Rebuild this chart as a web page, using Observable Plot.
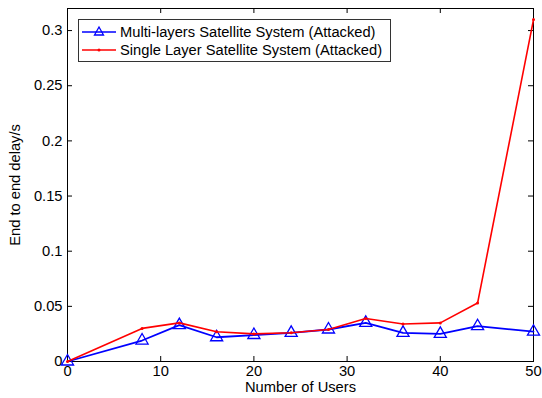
<!DOCTYPE html>
<html><head><meta charset="utf-8">
<script src="https://cdn.jsdelivr.net/npm/d3@7"></script>
<script src="https://cdn.jsdelivr.net/npm/@observablehq/plot@0.6"></script>
<style>
body{margin:0;background:#fff;font-family:"Liberation Sans",Arial,sans-serif;}
#wrap{position:relative;width:542px;height:398px;}
#legend{position:absolute;left:78px;top:19px;width:311px;height:41px;border:1px solid #333;background:#fff;font-size:14.7px;}
#legend .row{position:absolute;left:3px;height:18px;display:flex;align-items:center;}
#legend span{margin-left:4px;}
</style></head>
<body><div id="wrap"><div id="chart"></div>
<div id="legend">
<div class="row" style="top:3px"><svg width="34" height="18"><line x1="0" y1="9" x2="34" y2="9" stroke="#0000ff" stroke-width="1.5"/><path d="M17,4 L21.5,12 L12.5,12 Z" fill="none" stroke="#0000ff" stroke-width="1.3"/></svg><span>Multi-layers Satellite System (Attacked)</span></div>
<div class="row" style="top:21px"><svg width="34" height="18"><line x1="0" y1="9" x2="34" y2="9" stroke="#ff0000" stroke-width="1.5"/><circle cx="17" cy="9" r="1.5" fill="#ff0000"/></svg><span>Single Layer Satellite System (Attacked)</span></div>
</div></div>
<script>
const users = [0, 8, 12, 16, 20, 24, 28, 32, 36, 40, 44, 50];
const multiLayer = [0, 0.019, 0.033, 0.022, 0.024, 0.026, 0.029, 0.035, 0.026, 0.025, 0.032, 0.027];
const singleLayer = [0, 0.030, 0.035, 0.027, 0.025, 0.026, 0.029, 0.039, 0.034, 0.035, 0.053, 0.31];
const xTicks = [0, 10, 20, 30, 40, 50];
const yTicks = [0, 0.05, 0.1, 0.15, 0.2, 0.25, 0.3];
const yTickLabels = ["0", "0.05", "0.1", "0.15", "0.2", "0.25", "0.3"];

const multi = users.map((u, i) => ({u, v: multiLayer[i]}));
const single = users.map((u, i) => ({u, v: singleLayer[i]}));

const W = 542, H = 398, mT = 8, mB = 37, mL = 67, mR = 9;
const ph = H - mT - mB, pw = W - mL - mR, tl = 5;

const chart = Plot.plot({
  width: W, height: H,
  marginTop: mT, marginBottom: mB, marginLeft: mL, marginRight: mR,
  style: {fontFamily: '"Liberation Sans", Arial, sans-serif', fontSize: "14.7px", color: "#000", background: "#fff"},
  x: {domain: [0, 50]},
  y: {domain: [0, 0.32]},
  marks: [
    Plot.axisX({ticks: xTicks, tickSize: 0, tickPadding: 4, label: "Number of Users", labelAnchor: "center", labelArrow: "none", labelOffset: 30, fontSize: 14.7}),
    Plot.axisY({ticks: yTicks, tickFormat: (d) => yTickLabels[yTicks.indexOf(d)], tickSize: 0, tickPadding: 5, label: "End to end delay/s", labelAnchor: "center", labelArrow: "none", labelOffset: 58, fontSize: 14.7}),
    Plot.tickX(xTicks, {x: d => d, insetTop: ph - tl, stroke: "#000"}),
    Plot.tickX(xTicks, {x: d => d, insetBottom: ph - tl, stroke: "#000"}),
    Plot.tickY(yTicks, {y: d => d, insetRight: pw - tl, stroke: "#000"}),
    Plot.tickY(yTicks, {y: d => d, insetLeft: pw - tl, stroke: "#000"}),
    Plot.frame({stroke: "#000"}),
    Plot.line(multi, {x: "u", y: "v", stroke: "#0000ff", strokeWidth: 1.8}),
    Plot.dot(multi, {x: "u", y: "v", symbol: "triangle", r: 4.5, stroke: "#0000ff", fill: "none", strokeWidth: 1.3}),
    Plot.line(single, {x: "u", y: "v", stroke: "#ff0000", strokeWidth: 1.6}),
    Plot.dot(single, {x: "u", y: "v", r: 1.5, fill: "#ff0000"})
  ]
});
document.getElementById("chart").appendChild(chart);
</script></body></html>
